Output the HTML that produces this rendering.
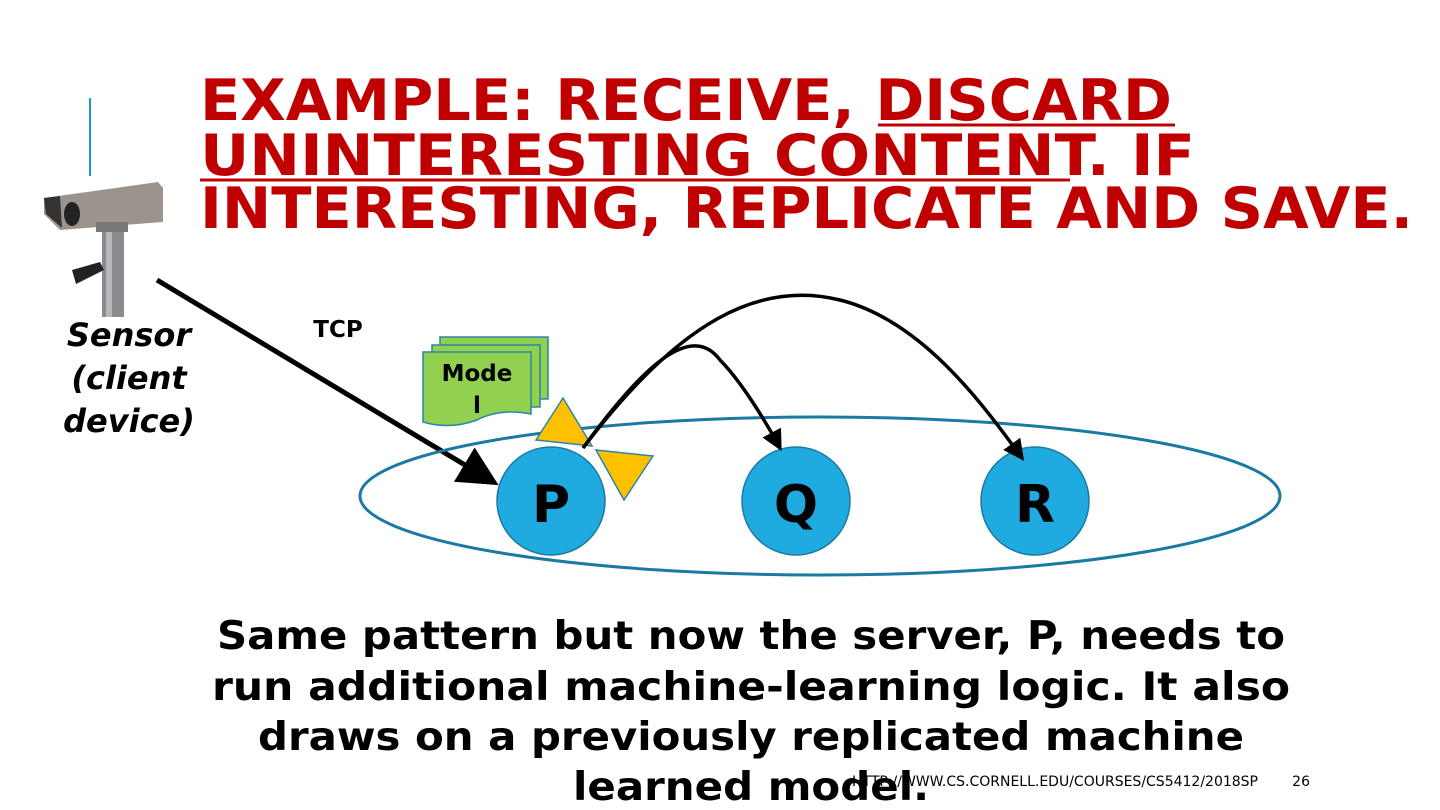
<!DOCTYPE html>
<html><head><meta charset="utf-8"><style>
html,body{margin:0;padding:0;background:#fff;}
svg{display:block;}
text{font-family:"DejaVu Sans","Liberation Sans",sans-serif;font-weight:bold;}
</style></head><body>
<svg width="1440" height="810" viewBox="0 0 1440 810" xmlns="http://www.w3.org/2000/svg">
<defs>
<marker id="ah" markerWidth="8" markerHeight="8" refX="6" refY="4" orient="auto" markerUnits="strokeWidth"><path d="M0,0 L8,4 L0,8 z" fill="#000"/></marker>
<marker id="ah2" markerWidth="6" markerHeight="6" refX="5" refY="3" orient="auto" markerUnits="strokeWidth"><path d="M0,0 L6,3 L0,6 z" fill="#000"/></marker>
</defs>
<line x1="90" y1="98" x2="90" y2="176" stroke="#1a9cc0" stroke-width="2"/>
<g fill="#c00000" font-size="57">
<text x="200" y="120" textLength="972" lengthAdjust="spacingAndGlyphs">EXAMPLE: RECEIVE, DISCARD</text>
<text x="200" y="175" textLength="995" lengthAdjust="spacingAndGlyphs">UNINTERESTING CONTENT.  IF</text>
<text x="200" y="228" textLength="1213" lengthAdjust="spacingAndGlyphs">INTERESTING, REPLICATE AND SAVE.</text>
</g>
<line x1="878" y1="125" x2="1175" y2="125" stroke="#c00000" stroke-width="3"/>
<line x1="200" y1="180" x2="1070" y2="180" stroke="#c00000" stroke-width="3"/>
<!-- camera -->
<rect x="102" y="225" width="22" height="92" fill="#8a8a8f"/>
<rect x="106" y="225" width="6" height="92" fill="#b8b8bc"/>
<path d="M72,270 L100,262 L104,270 L76,284 z" fill="#222"/>
<path d="M44,198 L158,182 L163,188 L163,222 L60,230 L44,214 z" fill="#9a948c"/>
<path d="M44,198 L60,196 L62,228 L46,214 z" fill="#333"/>
<ellipse cx="72" cy="214" rx="8" ry="12" fill="#222"/>
<rect x="96" y="222" width="32" height="10" fill="#777"/>
<g font-size="32" font-style="italic" text-anchor="middle" fill="#000">
<text x="129" y="346">Sensor</text>
<text x="129" y="389">(client</text>
<text x="129" y="432">device)</text>
</g>
<text x="338" y="337" font-size="23" text-anchor="middle">TCP</text>
<line x1="157" y1="280" x2="490" y2="480" stroke="#000" stroke-width="5" marker-end="url(#ah)"/>
<!-- ellipse -->
<ellipse cx="820" cy="496" rx="460" ry="79" fill="none" stroke="#1b7aa3" stroke-width="3"/>
<!-- model docs -->
<g stroke="#2a86a8" stroke-width="1.5" fill="#92d050">
<rect x="440" y="337" width="108" height="62"/>
<rect x="432" y="345" width="108" height="62"/>
<path d="M423,352 L531,352 L531,414 Q500,408 477,420 Q450,430 423,422 z"/>
</g>
<text x="477" y="381" font-size="23" text-anchor="middle">Mode</text>
<text x="477" y="413" font-size="23" text-anchor="middle">l</text>
<!-- bowtie -->
<path d="M563,398 L536,440 L592,446 z M596,450 L653,456 L624,500 z" fill="#ffc000" stroke="#2a86a8" stroke-width="1.5"/>
<!-- nodes -->
<g fill="#1faae0" stroke="#1b7aa3" stroke-width="1.5">
<circle cx="551" cy="501" r="54"/><circle cx="796" cy="501" r="54"/><circle cx="1035" cy="501" r="54"/>
</g>
<g font-size="52" text-anchor="middle" fill="#000">
<text x="551" y="522">P</text><text x="796" y="522">Q</text><text x="1035" y="522">R</text>
</g>
<!-- arcs -->
<path d="M583,448 C640,370 690,320 720,360 C740,380 765,420 780,448" fill="none" stroke="#000" stroke-width="3.5" marker-end="url(#ah2)"/>
<path d="M583,448 C680,320 760,280 840,300 C920,320 980,400 1022,458" fill="none" stroke="#000" stroke-width="3.5" marker-end="url(#ah2)"/>
<!-- body -->
<g font-size="39" text-anchor="middle" fill="#000">
<text x="751" y="649" textLength="1068" lengthAdjust="spacingAndGlyphs">Same pattern but now the server, P, needs to</text>
<text x="751" y="700" textLength="1078" lengthAdjust="spacingAndGlyphs">run additional machine-learning logic.  It also</text>
<text x="751" y="750" textLength="986" lengthAdjust="spacingAndGlyphs">draws on a previously replicated machine</text>
<text x="751" y="800" textLength="356" lengthAdjust="spacingAndGlyphs">learned model.</text>
</g>
<text x="1258" y="786" font-size="14" font-weight="normal" text-anchor="end" fill="#000" style="font-weight:normal">HTTP://WWW.CS.CORNELL.EDU/COURSES/CS5412/2018SP</text>
<text x="1310" y="786" font-size="14" text-anchor="end" fill="#000" style="font-weight:normal">26</text>
</svg>
</body></html>
